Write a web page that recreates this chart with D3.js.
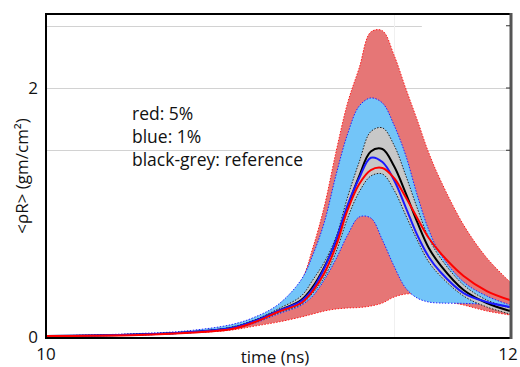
<!DOCTYPE html>
<html lang="en">
<head>
<meta charset="UTF-8">
<title>rhoR vs time</title>
<style>
  body { margin: 0; background: #fff; }
  text { font-family: "Open Sans", "Noto Sans", sans-serif; fill: #111; }
  .edge { fill: none; stroke-width: 1; stroke-dasharray: 1.5,1.5; }
  .line { fill: none; stroke-width: 2; }
  .grid { stroke: #d2d2d2; stroke-width: 1; }
</style>
</head>
<body>
<svg width="520" height="367"></svg>
<script src="https://d3js.org/d3.v7.min.js"></script>
<script>
// time points (ns)
const time = [10.0, 10.2, 10.4, 10.6, 10.8, 10.9, 11.0, 11.1, 11.15, 11.2, 11.25, 11.3,
              11.35, 11.4, 11.45, 11.5, 11.55, 11.6, 11.65, 11.7, 11.8, 11.9, 12.0];

// 5% band (red)
const redHigh = [0.008, 0.016, 0.024, 0.040, 0.085, 0.14, 0.23, 0.450, 0.715, 1.052, 1.486, 1.880,
                 2.161, 2.45, 2.46, 2.265, 2.000, 1.743, 1.478, 1.261, 0.900, 0.635, 0.442];
const redLow = [0.008, 0.012, 0.024, 0.032, 0.056, 0.088, 0.120, 0.161, 0.185, 0.209, 0.225, 0.233,
                0.237, 0.249, 0.273, 0.321, 0.345, 0.345, 0.321, 0.297, 0.257, 0.209, 0.177];
// 1% band (blue)
const blueHigh = [0.008, 0.016, 0.028, 0.048, 0.10, 0.16, 0.26, 0.46, 0.659, 0.924, 1.301, 1.631,
                  1.855, 1.92, 1.88, 1.703, 1.462, 1.141, 0.859, 0.667, 0.442, 0.329, 0.257];
const blueLow = [0.008, 0.010, 0.016, 0.032, 0.064, 0.112, 0.185, 0.255, 0.33, 0.46, 0.626, 0.819,
                 0.964, 0.956, 0.779, 0.570, 0.394, 0.313, 0.281, 0.273, 0.27, 0.26, 0.22];
// reference band (grey)
const greyHigh = [0.008, 0.012, 0.020, 0.036, 0.080, 0.137, 0.225, 0.329, 0.458, 0.602, 0.803, 1.124,
                  1.406, 1.65, 1.68, 1.542, 1.301, 1.036, 0.795, 0.635, 0.418, 0.297, 0.233];
const greyLow = [0.008, 0.010, 0.016, 0.032, 0.064, 0.120, 0.193, 0.265, 0.353, 0.482, 0.683, 0.956,
                 1.165, 1.293, 1.309, 1.181, 0.980, 0.779, 0.602, 0.490, 0.329, 0.241, 0.185];
// central curves
const blackLine = [0.008, 0.012, 0.020, 0.036, 0.072, 0.129, 0.209, 0.297, 0.402, 0.562, 0.771, 1.044,
                   1.293, 1.49, 1.51, 1.373, 1.157, 0.924, 0.715, 0.578, 0.378, 0.273, 0.209];
const blueLine = [0.008, 0.012, 0.020, 0.036, 0.072, 0.129, 0.209, 0.289, 0.386, 0.554, 0.779, 1.060,
                  1.277, 1.44, 1.406, 1.261, 1.044, 0.819, 0.643, 0.522, 0.353, 0.281, 0.241];
const redLine = [0.008, 0.010, 0.016, 0.032, 0.064, 0.120, 0.201, 0.273, 0.369, 0.514, 0.731, 1.020,
                 1.229, 1.341, 1.357, 1.277, 1.124, 0.956, 0.795, 0.675, 0.490, 0.369, 0.297];

const xTicks = [10, 12];
const yTicks = [0, 2];
const yGrid = [1.5, 2, 2.5];
const notes = ["red: 5%", "blue: 1%", "black-grey: reference"];

const svg = d3.select("svg");
const mLeft = 46, mRight = 510, mTop = 14, mBottom = 337;

const x = d3.scaleLinear().domain([10, 12]).range([mLeft, mRight]);
const y = d3.scaleLinear().domain([0, 2.6]).range([mBottom, 13.3]);

// grid
svg.append("g").selectAll("line")
  .data(yGrid)
  .enter().append("line")
  .attr("class", "grid")
  .attr("x1", mLeft)
  .attr("x2", d => d === 2.5 ? x(11.62) : mRight)
  .attr("y1", d => Math.round(y(d)) + 0.5)
  .attr("y2", d => Math.round(y(d)) + 0.5);
svg.append("line")
  .attr("x1", Math.round(x(11.5)) + 0.5).attr("x2", Math.round(x(11.5)) + 0.5)
  .attr("y1", mTop).attr("y2", mBottom)
  .attr("stroke", "#f0f0f0");

const curve = d3.curveCatmullRom.alpha(0.5);

function band(hi, lo, fill, edge) {
  const pts = time.map((t, i) => ({ t: t, hi: hi[i], lo: lo[i] }));
  svg.append("path")
    .datum(pts)
    .attr("fill", fill)
    .attr("d", d3.area().curve(curve)
      .x(d => x(d.t)).y0(d => y(d.lo)).y1(d => y(d.hi)));
  [hi, lo].forEach(arr => {
    svg.append("path")
      .datum(time.map((t, i) => [t, arr[i]]))
      .attr("class", "edge")
      .attr("stroke", edge)
      .attr("d", d3.line().curve(curve).x(d => x(d[0])).y(d => y(d[1])));
  });
}

band(redHigh, redLow, "#e67676", "#ff1a1a");
band(blueHigh, blueLow, "#73c5f8", "#2020ff");
band(greyHigh, greyLow, "#c8c8c8", "#222");

function line(vals, color) {
  svg.append("path")
    .datum(time.map((t, i) => [t, vals[i]]))
    .attr("class", "line")
    .attr("stroke", color)
    .attr("d", d3.line().curve(curve).x(d => x(d[0])).y(d => y(d[1])));
}
line(blackLine, "#000");
line(blueLine, "#1a1aff");
line(redLine, "#ff0000");

// frame
svg.append("line").attr("x1", mLeft).attr("x2", mRight).attr("y1", mTop).attr("y2", mTop)
  .attr("stroke", "#000").attr("stroke-width", 2);
svg.append("line").attr("x1", mLeft).attr("x2", mRight + 1).attr("y1", mBottom + 1).attr("y2", mBottom + 1)
  .attr("stroke", "#000").attr("stroke-width", 2);
svg.append("line").attr("x1", mLeft).attr("x2", mLeft).attr("y1", mTop - 1).attr("y2", mBottom + 2)
  .attr("stroke", "#000").attr("stroke-width", 2);
svg.append("line").attr("x1", mRight + 1).attr("x2", mRight + 1).attr("y1", mTop - 1).attr("y2", mBottom + 2)
  .attr("stroke", "#555").attr("stroke-width", 3);

// right side ticks
svg.append("g").selectAll("line")
  .data(yGrid)
  .enter().append("line")
  .attr("x1", mRight - 4).attr("x2", mRight)
  .attr("y1", d => y(d)).attr("y2", d => y(d))
  .attr("stroke", "#333");

// axes labels
svg.append("g").selectAll("text")
  .data(yTicks)
  .enter().append("text")
  .attr("x", 38).attr("y", d => y(d) + 6)
  .attr("text-anchor", "end")
  .style("font-size", "17px")
  .text(d => d);

svg.append("g").selectAll("text")
  .data(xTicks)
  .enter().append("text")
  .attr("x", d => d === 12 ? x(d) - 2 : x(d))
  .attr("y", 360)
  .attr("text-anchor", "middle")
  .style("font-size", "17px")
  .text(d => d);

svg.append("text")
  .attr("x", 275).attr("y", 363)
  .attr("text-anchor", "middle")
  .style("font-size", "17px")
  .text("time (ns)");

svg.append("text")
  .attr("transform", "translate(28,176) rotate(-90)")
  .attr("text-anchor", "middle")
  .style("font-size", "17px")
  .text("<ρR> (gm/cm²)");

svg.append("g").selectAll("text")
  .data(notes)
  .enter().append("text")
  .attr("x", 132)
  .attr("y", (d, i) => 120 + i * 23)
  .style("font-size", "17.5px")
  .text(d => d);
</script>
</body>
</html>
